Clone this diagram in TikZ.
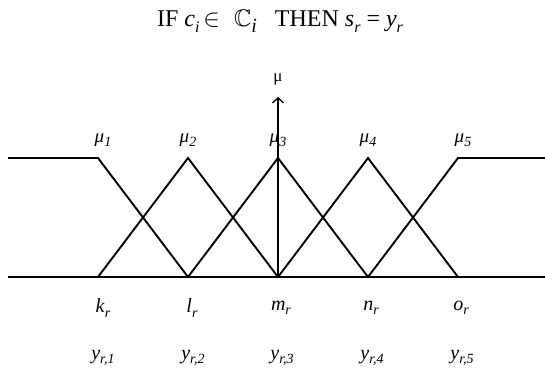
\documentclass[tikz,border=0pt]{standalone}
\usepackage{amssymb}
\usepackage{fontspec}
\setmainfont{Liberation Serif}
\usetikzlibrary{arrows.meta}
\newcommand{\mysub}[1]{\raisebox{-0.22em}{\fontsize{14}{16}\selectfont\textit{#1}}}
\newcommand{\tsub}[1]{\raisebox{-0.22em}{\fontsize{16}{18}\selectfont\textit{#1}}}
\begin{document}
\begin{tikzpicture}[x=1pt,y=-1pt,
  mf/.style={line width=1.9pt,line join=miter},
  lbl/.style={inner sep=0pt,font=\fontsize{20}{24}\selectfont},
  mulbl/.style={inner sep=0pt,font=\fontsize{19}{22}\selectfont},
  ttl/.style={inner sep=0pt,anchor=base,font=\fontsize{24}{28}\selectfont}]
\useasboundingbox (0,0) rectangle (545,374);
\node[ttl] (title) at (280,27) {IF \textit{c}\tsub{i}\,$\in$\hspace{14pt}$\mathbb{C}$\raisebox{-6pt}{\fontsize{20}{22}\selectfont\textit{i}}\hspace{18pt}THEN \textit{s}\tsub{r} = \textit{y}\tsub{r}};
% key points
\coordinate (L0) at (8,158);
\coordinate (Lb) at (8,277);
\coordinate (R0) at (545,158);
\coordinate (Rb) at (545,277);
\foreach \n/\x in {1/98,2/188,3/278,4/368,5/458}{
  \coordinate (t\n) at (\x,158);
  \coordinate (b\n) at (\x,277);
}
\draw[mf] (Lb) -- (Rb);
\draw[mf] (L0) -- (t1) -- (b2);
\draw[mf] (b1) -- (t2) -- (b3);
\draw[mf] (b2) -- (t3) -- (b4);
\draw[mf] (b3) -- (t4) -- (b5);
\draw[mf] (b4) -- (t5) -- (R0);
\coordinate (axtop) at (278,97);
\draw[line width=1.3pt,-{Straight Barb[length=5pt,width=11pt,line width=1.3pt]}] (b3) -- (axtop);
\node[inner sep=0pt,font=\fontsize{17}{20}\selectfont] (mu) at (278,79) {μ};
\node[mulbl] (m1) at (103,140) {\textit{μ}\mysub{1}};
\node[mulbl] (m2) at (188,140) {\textit{μ}\mysub{2}};
\node[mulbl] (m3) at (278,140) {\textit{μ}\mysub{3}};
\node[mulbl] (m4) at (368,140) {\textit{μ}\mysub{4}};
\node[mulbl] (m5) at (463,140) {\textit{μ}\mysub{5}};
\node[lbl] (k) at (103,308) {\textit{k}\mysub{r}};
\node[lbl] (l) at (192,308) {\textit{l}\mysub{r}};
\node[lbl] (m) at (281,308) {\textit{m}\mysub{r}};
\node[lbl] (n) at (371,308) {\textit{n}\mysub{r}};
\node[lbl] (o) at (461,308) {\textit{o}\mysub{r}};
\node[lbl] (y1) at (103,358) {\textit{y}\mysub{r,1}};
\node[lbl] (y2) at (193,358) {\textit{y}\mysub{r,2}};
\node[lbl] (y3) at (282,358) {\textit{y}\mysub{r,3}};
\node[lbl] (y4) at (372,358) {\textit{y}\mysub{r,4}};
\node[lbl] (y5) at (462,358) {\textit{y}\mysub{r,5}};
\end{tikzpicture}
\end{document}
